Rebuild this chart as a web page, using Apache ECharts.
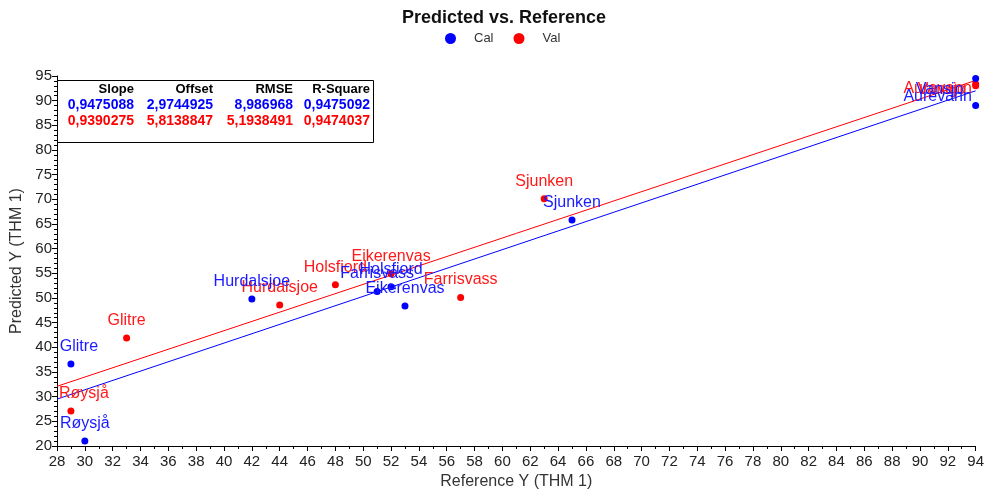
<!DOCTYPE html>
<html>
<head>
<meta charset="utf-8">
<script src="https://cdn.jsdelivr.net/npm/echarts@6/dist/echarts.min.js"></script>
<style>
html,body{margin:0;padding:0;background:#fff;}
#c{width:987px;height:495px;}
</style>
</head>
<body>
<div id="c"></div>
<script>
// ---- data ----
const calNames = ['Røysjå','Glitre','Hurdalsjoe','Farrisvass','Holsfiord','Eikerenvas','Sjunken','Vansjo','Aurevann'];
const calX     = [30, 29, 42, 51, 52, 53, 65, 94, 94];
const calY     = [21.0, 36.6, 49.8, 51.3, 52.3, 48.4, 65.8, 94.5, 89.0];

const valNames = ['Røysjå','Glitre','Hurdalsjoe','Holsfiord','Eikerenvas','Farrisvass','Sjunken','Aurevann','Vansjo'];
const valX     = [29, 33, 44, 48, 52, 57, 63, 94, 94];
const valY     = [27.1, 41.9, 48.6, 52.7, 54.9, 50.1, 70.1, 93.0, 93.4];

// regression lines (end points)
const calLineX = [28, 94];
const calLineY = [29.5, 92.0];
const valLineX = [28, 94];
const valLineY = [32.1, 94.1];

const statHeaders = ['Slope', 'Offset', 'RMSE', 'R-Square'];
const calStats = ['0,9475088', '2,9744925', '8,986968', '0,9475092'];
const valStats = ['0,9390275', '5,8138847', '5,1938491', '0,9474037'];

// ---- styles ----
const BLUE = '#0000ff', RED = '#ff0000';
const BLUE_T = '#1a1aff', RED_T = '#ff1a1a';
const FONT = '"Liberation Sans", Arial, sans-serif';

// label offsets (styling only)
const calLabelOff = { 'Glitre': [8, 0] };
const valLabelOff = { 'Røysjå': [13, 0] };
const edgeLabels = {
  cal: { 'Aurevann': [-38, -9], 'Vansjo': [-36, 11] },
  val: { 'Aurevann': [-38, 3], 'Vansjo': [-34, 6] }
};

function buildPoints(names, xs, ys, kind) {
  const offMap = kind === 'cal' ? calLabelOff : valLabelOff;
  return names.map((n, i) => {
    const item = { name: n, value: [xs[i], ys[i]] };
    const edge = edgeLabels[kind][n];
    if (edge) {
      item.label = { position: 'inside', offset: edge, distance: 0 };
    } else if (offMap[n]) {
      item.label = { offset: offMap[n] };
    }
    return item;
  });
}

const chart = echarts.init(document.getElementById('c'), null, { renderer: 'canvas' });

const colRight = [134, 213, 293, 370];
const rowY = [89, 105, 121];
const tableTexts = [];
[statHeaders, calStats, valStats].forEach((row, r) => {
  row.forEach((t, c) => {
    tableTexts.push({
      type: 'text',
      x: colRight[c], y: rowY[r],
      z: 100,
      style: {
        text: t,
        fill: r === 0 ? '#000' : (r === 1 ? BLUE : RED),
        font: (r === 0 ? 'bold 13px ' : 'bold 14px ') + FONT,
        textAlign: 'right',
        textVerticalAlign: 'middle'
      }
    });
  });
});

const option = {
  animation: false,
  backgroundColor: '#fff',
  textStyle: { fontFamily: FONT },
  title: {
    text: 'Predicted vs. Reference',
    left: 397,
    top: 4,
    textStyle: { fontSize: 18, fontWeight: 'bold', color: '#111', fontFamily: FONT }
  },
  legend: {
    data: ['Cal', 'Val'],
    top: 32,
    left: 445,
    padding: 0,
    icon: 'circle',
    itemWidth: 11,
    itemHeight: 11,
    itemGap: 20,
    textStyle: { fontSize: 13, color: '#333', padding: [0, 0, 0, 13] }
  },
  grid: { left: 57, right: 10, top: 76, bottom: 47 },
  xAxis: {
    type: 'value',
    min: 28, max: 94, interval: 2,
    name: 'Reference Y (THM 1)',
    nameLocation: 'middle',
    nameGap: 28,
    nameTextStyle: { fontSize: 16, color: '#333' },
    axisLine: { show: true, onZero: false, lineStyle: { color: '#000', width: 1 } },
    axisTick: { show: true, length: 5, lineStyle: { color: '#000' } },
    minorTick: { show: true, splitNumber: 2, length: 3, lineStyle: { color: '#000' } },
    splitLine: { show: false },
    axisLabel: { fontSize: 15, color: '#222', margin: 8 }
  },
  yAxis: {
    type: 'value',
    min: 20, max: 95, interval: 5,
    name: 'Predicted Y (THM 1)',
    nameLocation: 'middle',
    nameGap: 30,
    nameRotate: 90,
    nameTextStyle: { fontSize: 16, color: '#333' },
    axisLine: { show: true, onZero: false, lineStyle: { color: '#000', width: 1 } },
    axisTick: { show: true, length: 5, lineStyle: { color: '#000' } },
    minorTick: { show: true, splitNumber: 5, length: 3, lineStyle: { color: '#000' } },
    splitLine: { show: false },
    axisLabel: { fontSize: 15, color: '#222', margin: 5 }
  },
  graphic: [
    {
      type: 'rect', z: 99,
      shape: { x: 57.5, y: 80.5, width: 316, height: 62 },
      style: { fill: '#fff', stroke: '#000', lineWidth: 1 }
    }
  ].concat(tableTexts),
  series: [
    {
      name: 'CalLine', type: 'line', silent: true, symbol: 'none',
      data: calLineX.map((x, i) => [x, calLineY[i]]),
      lineStyle: { color: BLUE, width: 1 }, z: 1
    },
    {
      name: 'ValLine', type: 'line', silent: true, symbol: 'none',
      data: valLineX.map((x, i) => [x, valLineY[i]]),
      lineStyle: { color: RED, width: 1 }, z: 1
    },
    {
      name: 'Cal', type: 'scatter', symbolSize: 7,
      itemStyle: { color: BLUE, opacity: 1 },
      data: buildPoints(calNames, calX, calY, 'cal'),
      label: {
        show: true, position: 'top', distance: 6,
        formatter: p => p.name,
        color: BLUE_T, fontSize: 16, fontFamily: FONT
      },
      z: 3
    },
    {
      name: 'Val', type: 'scatter', symbolSize: 7,
      itemStyle: { color: RED, opacity: 1 },
      data: buildPoints(valNames, valX, valY, 'val'),
      label: {
        show: true, position: 'top', distance: 6,
        formatter: p => p.name,
        color: RED_T, fontSize: 16, fontFamily: FONT
      },
      z: 2
    }
  ]
};
chart.setOption(option);
</script>
</body>
</html>
